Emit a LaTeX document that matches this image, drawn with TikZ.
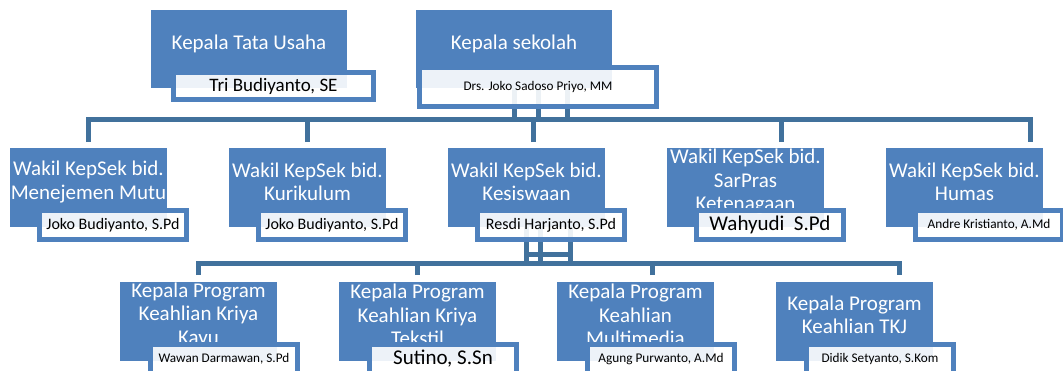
\documentclass[tikz,border=0pt]{standalone}
\usepackage{fontspec}
\setmainfont{Carlito}
\usepackage{xcolor}
\usepackage{tikz}
\usetikzlibrary{backgrounds}
\definecolor{boxblue}{HTML}{4F81BD}
\definecolor{lineblue}{HTML}{41719C}

\begin{document}
\begin{tikzpicture}[x=1pt, y=-1pt,
  posbox/.style={fill=boxblue, inner sep=0pt, outer sep=0pt, anchor=north west,
    minimum width=157pt, minimum height=79pt},
  postext/.style={text=white, inner sep=0pt, align=center,
    font=\fontsize{21}{23.5}\selectfont},
  namebox/.style={draw=boxblue, line width=5pt, fill=white, fill opacity=0.9,
    text opacity=1, inner sep=0pt, outer sep=0pt, anchor=north west,
    minimum width=147pt, minimum height=29pt},
  link/.style={draw=lineblue, line width=5pt}]

\useasboundingbox (0,0) rectangle (1063,370);
\clip (0,0) rectangle (1063,370);

% top row
\node (b1) at (151,10) [posbox, minimum width=196pt, minimum height=78pt]{};
\node (t1) at (249,44) [postext]{Kepala Tata Usaha};
\node (n1) at (173.5,72.5) [namebox, minimum width=200pt, minimum height=27pt,
  font=\fontsize{19}{19}\selectfont]{Tri Budiyanto, SE};

\node (b2) at (416,10) [posbox, minimum width=196pt, minimum height=78pt]{};
\node (t2) at (514,44) [postext]{Kepala sekolah};
\node (n2) at (419.5,67.5) [namebox, minimum width=237pt, minimum height=39pt,
  font=\fontsize{13.2}{13.2}\selectfont]{Drs. Joko Sadoso Priyo, MM};

% wakil
\node (w1) at (10,148) [posbox]{};
\node (s1) at (88.5,182) [postext]{Wakil KepSek bid.\\Menejemen Mutu};
\node (m1) at (39.5,210.5) [namebox, font=\fontsize{16}{16}\selectfont]{Joko Budiyanto, S.Pd};

\node (w2) at (229,148) [posbox]{};
\node (s2) at (307.5,182) [postext]{Wakil KepSek bid.\\Kurikulum};
\node (m2) at (258.5,210.5) [namebox, font=\fontsize{16}{16}\selectfont]{Joko Budiyanto, S.Pd};

\node (w3) at (448,148) [posbox]{};
\node (s3) at (526.5,182) [postext]{Wakil KepSek bid.\\Kesiswaan};
\node (m3) at (477.5,210.5) [namebox, font=\fontsize{16}{16}\selectfont]{Resdi Harjanto, S.Pd};

\node (w4) at (667,148) [posbox]{};
\node (s4) at (745.5,182) [postext]{Wakil KepSek bid.\\SarPras\\Ketenagaan};
\node (m4) at (696.5,210.5) [namebox, font=\fontsize{21}{21}\selectfont]{Wahyudi~ S.Pd};

\node (w5) at (886,148) [posbox]{};
\node (s5) at (964.5,182) [postext]{Wakil KepSek bid.\\Humas};
\node (m5) at (915.5,210.5) [namebox, font=\fontsize{13.3}{13.3}\selectfont]{Andre Kristianto, A.Md};

% kepala program
\node (p1) at (120,282) [posbox]{};
\node (r1) at (198.5,315) [postext]{Kepala Program\\Keahlian Kriya\\Kayu};
\node (q1) at (150.5,344.5) [namebox, font=\fontsize{13.2}{13.2}\selectfont]{Wawan Darmawan, S.Pd};

\node (p2) at (339,282) [posbox]{};
\node (r2) at (417.5,315) [postext]{Kepala Program\\Keahlian Kriya\\Tekstil};
\node (q2) at (369.5,344.5) [namebox, font=\fontsize{21}{21}\selectfont]{Sutino, S.Sn};

\node (p3) at (557,282) [posbox]{};
\node (r3) at (635.5,315) [postext]{Kepala Program\\Keahlian\\Multimedia};
\node (q3) at (587.5,344.5) [namebox, font=\fontsize{13.3}{13.3}\selectfont]{Agung Purwanto, A.Md};

\node (p4) at (776,282) [posbox]{};
\node (r4) at (854.5,315) [postext]{Kepala Program\\Keahlian TKJ};
\node (q4) at (806.5,344.5) [namebox, font=\fontsize{13.2}{13.2}\selectfont]{Didik Setyanto, S.Kom};

% connectors
\begin{scope}[on background layer]
\coordinate (h1) at (0,119);
\coordinate (h2) at (0,263);
\draw[link] ([yshift=6pt]w1.north) -- (w1.north |- h1) -- ([xshift=65.5pt]w5.north |- h1)
  -- ([xshift=65.5pt,yshift=6pt]w5.north);
\draw[link] ([yshift=6pt]w2.north) -- (w2.north |- h1);
\draw[link] ([xshift=6.5pt,yshift=6pt]w3.north) -- ([xshift=6.5pt]w3.north |- h1);
\draw[link] ([xshift=35.5pt,yshift=6pt]w4.north) -- ([xshift=35.5pt]w4.north |- h1);
\draw[link] (b2.south) -- (b2.south |- h1);
\draw[link] ([xshift=24pt]b2.south) -- ([xshift=24pt]b2.south |- h1);
\draw[link] ([xshift=53pt]b2.south) -- ([xshift=53pt]b2.south |- h1);

\draw[link] ([yshift=7pt]p1.north) -- (p1.north |- h2) -- ([xshift=44.5pt]p4.north |- h2)
  -- ([xshift=44.5pt,yshift=7pt]p4.north);
\draw[link] ([yshift=7pt]p2.north) -- (p2.north |- h2);
\draw[link] ([xshift=16.5pt,yshift=7pt]p3.north) -- ([xshift=16.5pt]p3.north |- h2);
\draw[link] (w3.south) -- (w3.south |- h2);
\draw[link] ([xshift=13.5pt]w3.south) -- ([xshift=13.5pt]w3.south |- h2);
\draw[link] ([xshift=43.5pt]w3.south) -- ([xshift=43.5pt]w3.south |- h2);
\draw[link] ([yshift=-27pt]w3.south) -- ([xshift=43.5pt,yshift=-27pt]w3.south);
\end{scope}

\end{tikzpicture}
\end{document}
